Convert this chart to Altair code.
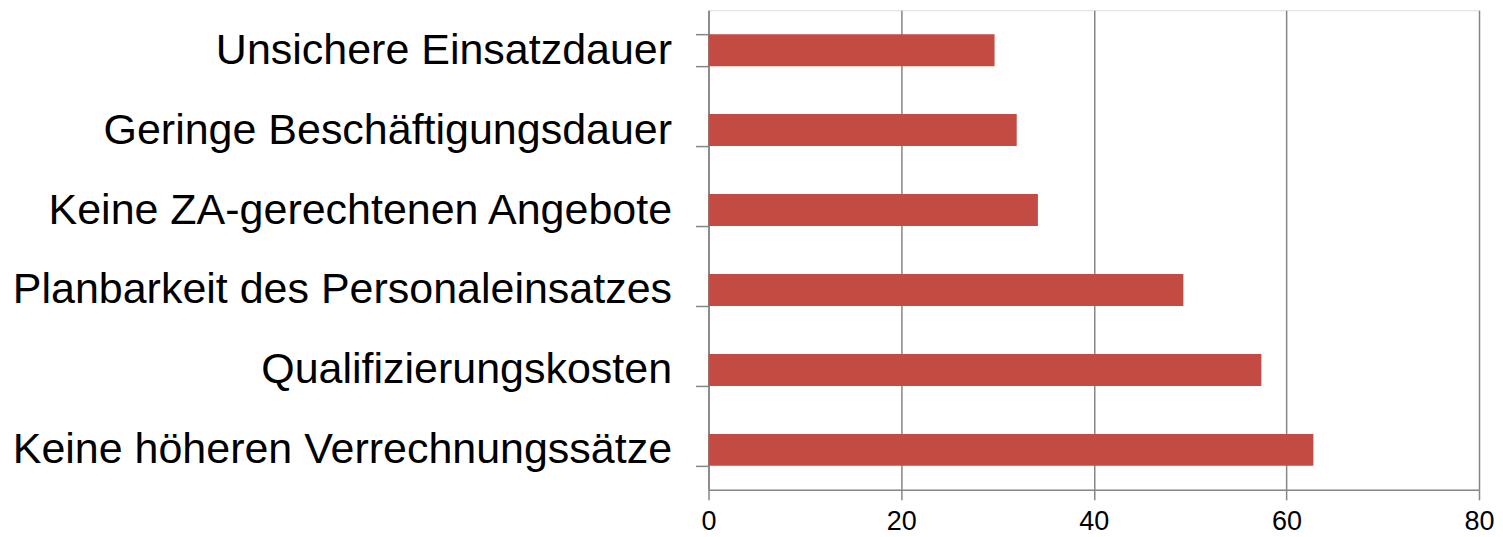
import altair as alt
import pandas as pd

categories = [
    "Unsichere Einsatzdauer",
    "Geringe Beschäftigungsdauer",
    "Keine ZA-gerechtenen Angebote",
    "Planbarkeit des Personaleinsatzes",
    "Qualifizierungskosten",
    "Keine höheren Verrechnungssätze",
]
values = [29.7, 32.0, 34.2, 49.3, 57.4, 62.8]
x_ticks = [0, 20, 40, 60, 80]

df = pd.DataFrame({"cat": categories, "val": values})

axis_color = "#868686"

chart = (
    alt.Chart(df)
    .mark_bar(color="#C44B41")
    .encode(
        x=alt.X(
            "val:Q",
            scale=alt.Scale(domain=[0, 80], nice=False, zero=True),
            axis=alt.Axis(
                values=x_ticks,
                title=None,
                grid=True,
                gridColor=axis_color,
                gridWidth=1.5,
                domainColor=axis_color,
                domainWidth=1.5,
                tickColor=axis_color,
                tickWidth=1.5,
                tickSize=10,
                labelFont="Liberation Sans",
                labelFontSize=27,
                labelColor="#000000",
                labelPadding=9,
                labelFlush=False,
            ),
        ),
        y=alt.Y(
            "cat:N",
            sort=categories,
            scale=alt.Scale(paddingInner=0.6, paddingOuter=0.3),
            axis=alt.Axis(
                title=None,
                grid=False,
                tickBand="extent",
                domainColor=axis_color,
                domainWidth=1.5,
                tickColor=axis_color,
                tickWidth=1.5,
                tickSize=13,
                labelFont="Liberation Sans",
                labelFontSize=43,
                labelColor="#000000",
                labelPadding=24,
                labelLimit=800,
            ),
        ),
    )
    .properties(
        width=771,
        height=480,
        autosize=alt.AutoSizeParams(type="none"),
        padding={"left": 701, "top": 2, "right": 16, "bottom": 55},
    )
    .configure_view(stroke=None)
    .configure(background="white")
)

chart.save("out.html", embed_options={"renderer": "svg", "actions": False})
